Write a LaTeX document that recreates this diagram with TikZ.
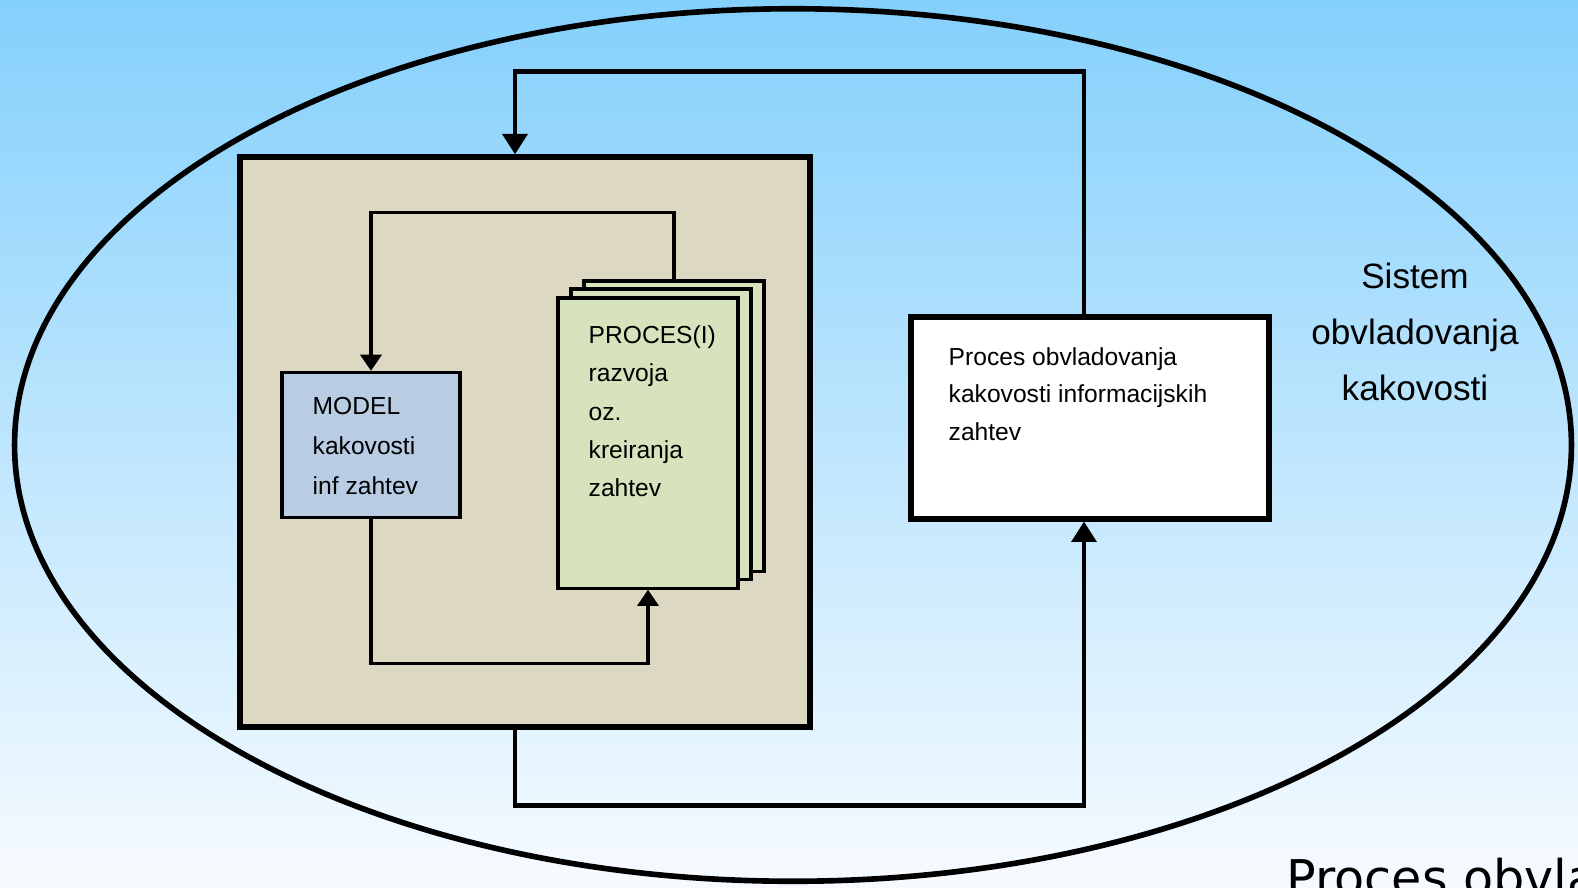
\documentclass[tikz,border=0pt]{standalone}
\usepackage{fontspec}
\setmainfont{Liberation Sans}
\newfontfamily\titlefont{DejaVu Sans}
\usetikzlibrary{arrows.meta}
\usetikzlibrary{calc}
\definecolor{skytop}{RGB}{132,208,252}
\definecolor{skybot}{RGB}{247,251,255}
\definecolor{beige}{RGB}{221,216,194}
\definecolor{modelblue}{RGB}{184,204,228}
\definecolor{procgreen}{RGB}{215,227,188}

\begin{document}
\begin{tikzpicture}[x = 0.01cm, y = -0.01cm]
	\tikzstyle{bigStyle} = [shape = rectangle, draw, line width = 1.7pt, inner sep = 0pt]
	\tikzstyle{smallStyle} = [shape = rectangle, draw, line width = 0.9pt, inner sep = 0pt]
	\tikzstyle{sheetStyle} = [smallStyle, fill = procgreen, minimum width = 1.8cm, minimum height = 2.9cm]
	\tikzstyle{outerEdge} = [line width = 1.3pt, -{Triangle[width = 7pt, length = 5.8pt]}]
	\tikzstyle{innerEdge} = [line width = 0.9pt, -{Triangle[width = 6pt, length = 4.6pt]}]
	\tikzstyle{boxText} = [anchor = north west, align = left, inner sep = 0pt]
	\path[use as bounding box, clip] (0,0) rectangle (1578,887);
	\fill[top color = skytop, bottom color = skybot] (0,0) rectangle (1578,887);
	\draw[line width = 1.6pt] (793,445) ellipse [x radius = 7.78cm, y radius = 4.36cm];
	% boxes
	\node[bigStyle, fill = beige, minimum width = 5.70cm, minimum height = 5.69cm] (big) at (525,442) {};
	\node[bigStyle, fill = white, minimum width = 3.57cm, minimum height = 2.01cm] (ctrl) at (1090,418) {};
	\node[smallStyle, fill = modelblue, minimum width = 1.78cm, minimum height = 1.45cm] (model) at (371,445) {};
	\node[sheetStyle] (back) at (674,426) {};
	\node[sheetStyle] (mid) at (661,434) {};
	\node[sheetStyle] (front) at (648,443) {};
	% connectors
	\draw[outerEdge] ($(ctrl.north)+(-6,0)$) -- ++(0,-243) -| ($(big.north)+(-10,0)$);
	\draw[outerEdge] ($(big.south)+(-10,0)$) -- ++(0,76) -| ($(ctrl.south)+(-6,0)$);
	\draw[innerEdge] (back.north) -- ++(0,-67) -| (model.north);
	\draw[innerEdge] (model.south) -- ++(0,144) -| (front.south);
	% texts
	\node[boxText, font = \fontsize{7}{11.3}\selectfont] (mtext) at (312,397) {MODEL\\kakovosti\\inf zahtev};
	\node[boxText, font = \fontsize{7}{10.9}\selectfont] (ptext) at (588,325) {PROCES(I)\\razvoja\\oz.\\kreiranja\\zahtev};
	\node[boxText, font = \fontsize{7}{10.6}\selectfont] (ctext) at (948,347) {Proces obvladovanja\\kakovosti informacijskih\\zahtev};
	\node[anchor = north, align = center, inner sep = 0pt, font = \fontsize{10}{16}\selectfont] (sys) at (1415,262) {Sistem\\obvladovanja\\kakovosti};
	\node[anchor = north west, inner sep = 0pt, font = \titlefont\fontsize{14}{17}\selectfont] (title) at (1286,857) {Proces obvladovanja};
\end{tikzpicture}
\end{document}
